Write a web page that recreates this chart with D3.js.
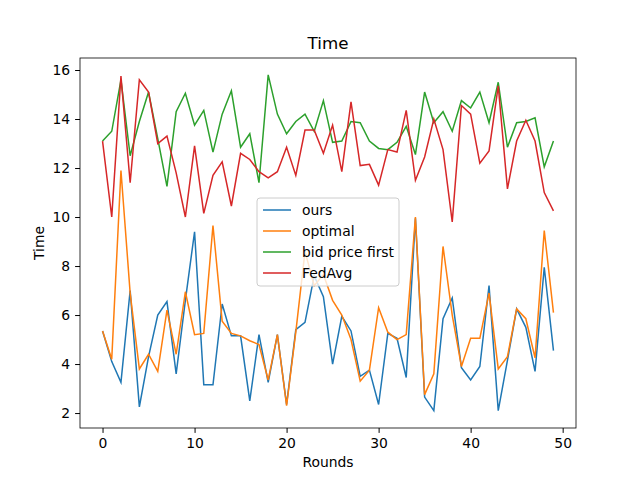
<!DOCTYPE html><html><head><script src="https://cdn.jsdelivr.net/npm/d3@7"></script>
<style>body{margin:0;background:#fff}text{font-family:"DejaVu Sans",sans-serif}</style></head><body>
<svg id="c" width="640" height="480"></svg>
<script>
const ours=[5.35,4.1,3.25,7.0,2.25,4.3,6.0,6.55,3.6,6.6,9.4,3.15,3.15,6.45,5.15,5.15,2.5,5.2,3.25,5.2,2.35,5.4,5.7,7.6,6.75,4.0,5.95,5.35,3.5,3.75,2.35,5.25,5.05,3.45,9.95,2.65,2.1,5.85,6.7,3.85,3.35,3.9,7.2,2.1,4.15,6.25,5.5,3.7,7.95,4.55];
const optimal=[5.35,4.2,11.9,6.9,3.8,4.4,3.7,6.2,4.4,6.95,5.2,5.25,9.65,5.75,5.25,5.15,4.95,4.8,3.35,5.2,2.3,5.3,8.6,7.2,7.65,6.6,6.0,5.0,3.3,3.75,6.3,5.3,5.0,5.2,10.0,2.75,3.6,8.8,6.0,3.9,5.05,5.05,6.9,3.8,4.3,6.25,5.85,4.25,9.45,6.1];
const bidPriceFirst=[13.1,13.5,15.6,12.5,13.9,15.1,13.2,11.25,14.3,15.05,13.75,14.35,12.65,14.2,15.15,12.85,13.4,11.4,15.8,14.2,13.4,13.9,14.2,13.5,14.75,13.05,13.1,13.9,13.85,13.1,12.8,12.75,13.05,13.7,12.55,15.1,13.85,14.3,13.5,14.75,14.45,15.1,13.85,15.5,12.85,13.85,13.9,14.05,12.05,13.1];
const fedAvg=[13.1,10.0,15.75,11.4,15.6,15.1,13.0,13.3,11.8,10.0,12.9,10.15,11.7,12.25,10.45,12.6,12.35,11.85,11.6,11.85,12.85,11.7,13.55,13.55,12.6,13.75,11.85,14.7,12.1,12.15,11.3,12.75,12.65,14.35,11.5,12.45,14.0,12.75,9.8,14.55,14.2,12.2,12.7,15.35,11.15,13.1,13.95,13.1,11.0,10.25];
const names=["ours","optimal","bid price first","FedAvg"];
const colors=["#1f77b4","#ff7f0e","#2ca02c","#d62728"];
const xTicks=[0,10,20,30,40,50], yTicks=[2,4,6,8,10,12,14,16];
const series=[ours,optimal,bidPriceFirst,fedAvg];
const L=80,R=576,T=58,B=428;
const svg=d3.select("#c");
const x=d3.scaleLinear().domain([-2.45,51.45]).range([L,R]);
const y=d3.scaleLinear().domain([1.39,16.49]).range([B,T]);
const line=d3.line().x((d,i)=>x(i)).y(d=>y(d));
series.forEach((s,k)=>svg.append("path").attr("d",line(s)).attr("fill","none").attr("stroke",colors[k]).attr("stroke-width",1.5));
svg.append("g").attr("transform",`translate(0,${B})`).call(d3.axisBottom(x).tickValues(xTicks).tickSizeOuter(0).tickSize(4.9).tickPadding(4.9)).call(g=>{g.select(".domain").remove();g.selectAll("text").attr("font-size",13.9).attr("fill","#000").attr("font-family","DejaVu Sans")});
svg.append("g").attr("transform",`translate(${L},0)`).call(d3.axisLeft(y).tickValues(yTicks).tickSizeOuter(0).tickSize(4.9).tickPadding(4.9)).call(g=>{g.select(".domain").remove();g.selectAll("text").attr("font-size",13.9).attr("fill","#000").attr("font-family","DejaVu Sans")});
svg.append("rect").attr("x",L).attr("y",T).attr("width",R-L).attr("height",B-T).attr("fill","none").attr("stroke","#000").attr("stroke-width",0.8);
svg.append("text").attr("x",(L+R)/2).attr("y",49).attr("text-anchor","middle").attr("font-size",16.7).text("Time");
svg.append("text").attr("x",(L+R)/2).attr("y",467).attr("text-anchor","middle").attr("font-size",13.9).text("Rounds");
svg.append("text").attr("transform",`translate(44,${(T+B)/2}) rotate(-90)`).attr("text-anchor","middle").attr("font-size",13.9).text("Time");
const lg=svg.append("g").attr("transform","translate(257,198)");
lg.append("rect").attr("width",142).attr("height",88).attr("rx",3).attr("fill","#fff").attr("fill-opacity",0.8).attr("stroke","#ccc");
names.forEach((n,k)=>{const yy=12+k*21;
lg.append("line").attr("x1",6).attr("x2",34).attr("y1",yy).attr("y2",yy).attr("stroke",colors[k]).attr("stroke-width",1.5);
lg.append("text").attr("x",45).attr("y",yy+5).attr("font-size",13.9).text(n);});
</script></body></html>
